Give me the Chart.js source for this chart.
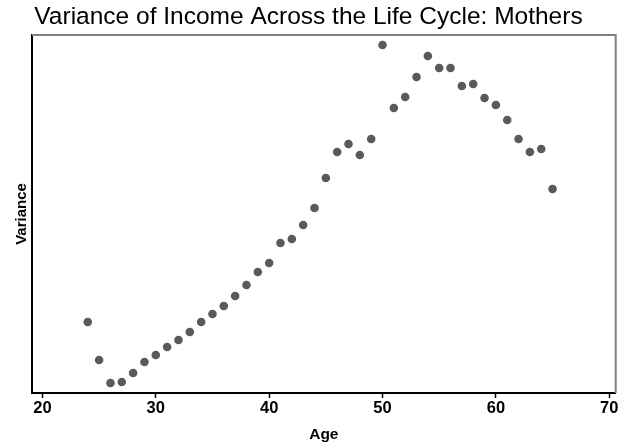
<!DOCTYPE html>
<html>
<head>
<meta charset="utf-8">
<script src="https://cdn.jsdelivr.net/npm/chart.js@4/dist/chart.umd.min.js"></script>
<style>
  html, body { margin: 0; padding: 0; background: #ffffff; }
  #wrap { width: 620px; height: 444px; }
</style>
</head>
<body>
<div id="wrap"><canvas id="c" width="620" height="444"></canvas></div>
<script>
// Data (variance in arbitrary units)
const ages = [24,25,26,27,28,29,30,31,32,33,34,35,36,37,38,39,40,41,42,43,44,
              45,46,47,48,49,50,51,52,53,54,55,56,57,58,59,60,61,62,63,64,65];
const variance = [0.371,0.333,0.310,0.311,0.320,0.331,0.338,0.346,0.353,0.361,0.371,
                  0.379,0.387,0.397,0.408,0.421,0.430,0.450,0.454,0.468,0.485,
                  0.515,0.541,0.549,0.538,0.554,0.648,0.585,0.596,0.616,0.637,
                  0.625,0.625,0.607,0.609,0.595,0.588,0.573,0.554,0.541,0.544,0.504];
const xTickValues = [20,30,40,50,60,70];

const FONT = "'Liberation Sans', Arial, Helvetica, sans-serif";

const frame = {
  id: 'frame',
  afterDatasetsDraw(chart) {
    const a = chart.chartArea, ctx = chart.ctx;
    ctx.save();
    ctx.strokeStyle = '#808080';
    ctx.lineWidth = 2;
    ctx.beginPath();
    ctx.moveTo(a.left, a.top);
    ctx.lineTo(a.right, a.top);
    ctx.lineTo(a.right, a.bottom);
    ctx.stroke();
    ctx.restore();
  }
};

new Chart(document.getElementById('c'), {
  type: 'scatter',
  data: {
    datasets: [{
      data: ages.map((a, i) => ({ x: a, y: variance[i] })),
      backgroundColor: '#5a5a5a',
      borderColor: '#5a5a5a',
      pointRadius: 4.3,
      pointBorderWidth: 0
    }]
  },
  options: {
    responsive: false,
    animation: false,
    layout: { padding: { left: 0, right: 3, top: 0, bottom: 0 } },
    plugins: {
      legend: { display: false },
      tooltip: { enabled: false },
      title: {
        display: true,
        text: 'Variance of Income Across the Life Cycle: Mothers',
        color: '#000000',
        font: { family: FONT, size: 24.5, weight: 'normal', lineHeight: 1.2 },
        padding: { top: 3, bottom: 2.6 }
      }
    },
    scales: {
      x: {
        type: 'linear',
        min: 19.08,
        max: 70.57,
        afterBuildTicks(scale) { scale.ticks = xTickValues.map(v => ({ value: v })); },
        afterFit(scale) { scale.height = 51; },
        grid: { display: true, drawOnChartArea: false, drawTicks: true, tickLength: 5, color: '#000000', tickWidth: 1.5 },
        border: { display: true, color: '#000000', width: 2 },
        ticks: { color: '#000000', font: { family: FONT, size: 16.5, weight: 'bold' }, padding: 1, maxRotation: 0 },
        title: { display: true, text: 'Age', color: '#000000', font: { family: FONT, size: 15.5, weight: 'bold' }, padding: { top: 7, bottom: 0 } }
      },
      y: {
        type: 'linear',
        min: 0.3,
        max: 0.658,
        afterFit(scale) { scale.width = 32; },
        grid: { display: false, drawTicks: false },
        border: { display: true, color: '#000000', width: 2 },
        ticks: { display: false },
        title: { display: true, text: 'Variance', color: '#000000', font: { family: FONT, size: 15, weight: 'bold' }, padding: { top: 13, bottom: 0 } }
      }
    }
  },
  plugins: [frame]
});
</script>
</body>
</html>
